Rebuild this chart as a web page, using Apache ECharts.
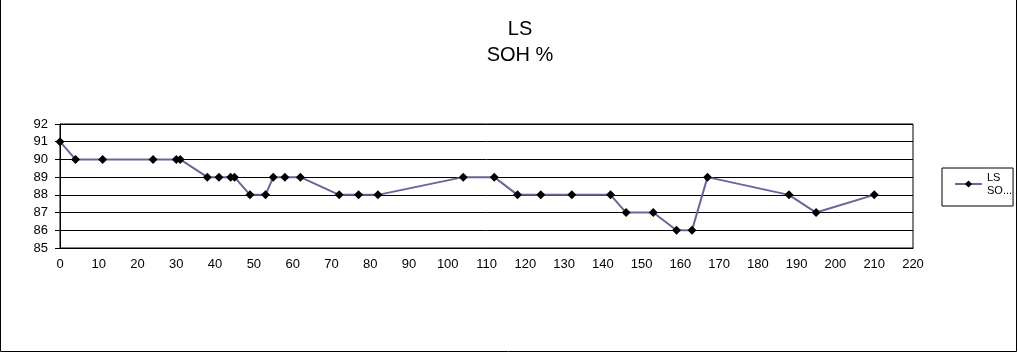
<!DOCTYPE html>
<html>
<head>
<meta charset="utf-8">
<script src="https://cdn.jsdelivr.net/npm/echarts@6/dist/echarts.min.js"></script>
<style>
  html, body { margin: 0; padding: 0; background: #fff; }
  #main { width: 1018px; height: 353px; }
</style>
</head>
<body>
<div id="main"></div>
<script>
// days vs state of health
var days = [0, 4, 11, 24, 30, 31, 38, 41, 44, 45, 49, 53, 55, 58, 62, 72, 77, 82,
    104, 112, 118, 124, 132, 142, 146, 153, 159, 163, 167, 188, 195, 210];
var soh = [91, 90, 90, 90, 90, 90, 89, 89, 89, 89, 88, 88, 89, 89, 89, 88, 88, 88,
    89, 89, 88, 88, 88, 88, 87, 87, 86, 86, 89, 88, 87, 88];
var seriesName = 'LS SOH %';

var chart = echarts.init(document.getElementById('main'), null, { renderer: 'canvas' });

var points = days.map(function (d, i) { return [d, soh[i]]; });

var option = {
    animation: false,
    textStyle: { fontFamily: 'Liberation Sans, Arial, sans-serif' },
    title: {
        text: 'LS\nSOH %',
        left: 520,
        top: 16,
        textAlign: 'center',
        padding: 0,
        textStyle: {
            fontSize: 20,
            fontWeight: 'normal',
            color: '#000',
            lineHeight: 26
        }
    },
    legend: {
        left: 942,
        top: 168,
        orient: 'vertical',
        borderColor: '#000',
        borderWidth: 1,
        borderRadius: 0,
        padding: [4, 1, 10, 12],
        itemWidth: 27,
        itemHeight: 9,
        formatter: function () { return 'LS\nSO...'; },
        textStyle: {
            fontSize: 11,
            color: '#000',
            lineHeight: 13,
            verticalAlign: 'top',
            padding: [-6, 0, 0, 0]
        },
        data: [seriesName]
    },
    grid: {
        left: 60,
        right: 105,
        top: 124,
        bottom: 105,
        show: true,
        borderColor: '#000',
        borderWidth: 1
    },
    xAxis: {
        type: 'value',
        min: 0,
        max: 220,
        interval: 10,
        axisLine: { show: true, onZero: false, lineStyle: { color: '#000' } },
        axisTick: { show: false },
        splitLine: { show: false },
        axisLabel: { color: '#000', fontSize: 13, margin: 10 }
    },
    yAxis: {
        type: 'value',
        min: 85,
        max: 92,
        interval: 1,
        axisLine: { show: true, lineStyle: { color: '#000' } },
        axisTick: { show: true, length: 5, lineStyle: { color: '#000' } },
        splitLine: { show: true, lineStyle: { color: '#000', width: 1 } },
        axisLabel: { color: '#000', fontSize: 13, margin: 12 }
    },
    series: [{
        name: seriesName,
        type: 'line',
        data: points,
        symbol: 'diamond',
        symbolSize: 9,
        itemStyle: { color: '#000' },
        lineStyle: { color: '#666699', width: 2 }
    }],
    graphic: [{
        type: 'rect',
        shape: { x: 0.5, y: -1, width: 1016, height: 352.5 },
        style: { fill: 'none', stroke: '#000', lineWidth: 1 },
        silent: true
    }]
};

chart.setOption(option);
</script>
</body>
</html>
